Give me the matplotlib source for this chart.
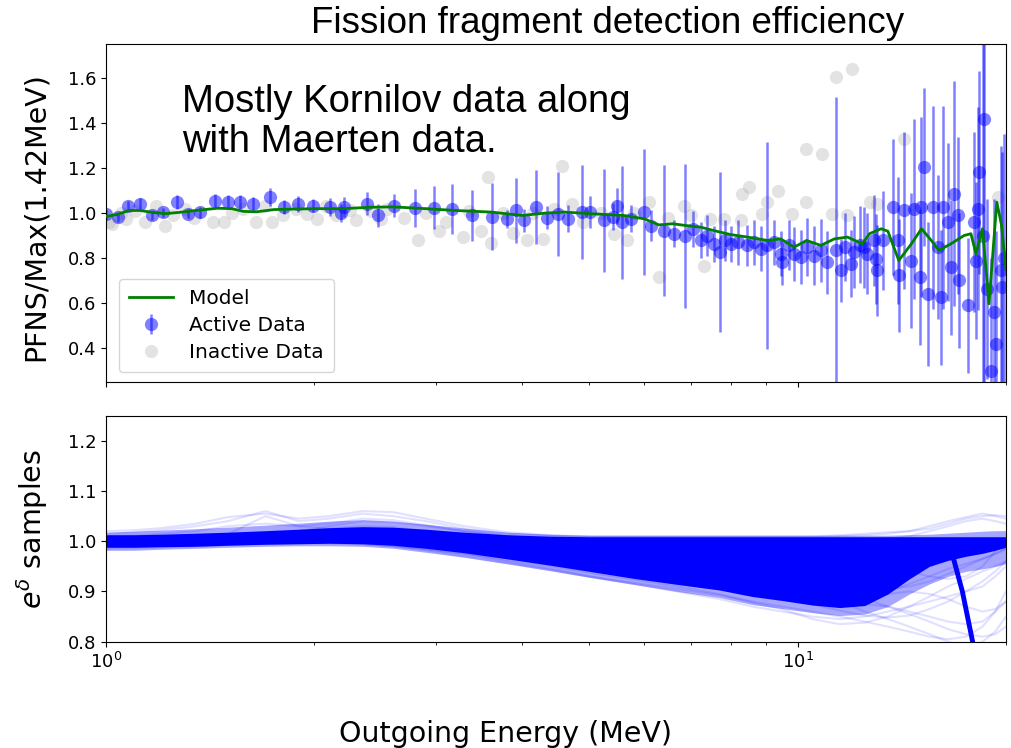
import numpy as np
import matplotlib
matplotlib.use("Agg")
import matplotlib.pyplot as plt

# ---------------- data ----------------
active_E = [1.00, 1.042, 1.077, 1.120, 1.164, 1.210, 1.266, 1.316, 1.368, 1.438, 1.503, 1.563,
            1.634, 1.727, 1.806, 1.898, 1.995, 2.109, 2.19, 2.205, 2.384, 2.477, 2.605,
            2.80, 2.977, 3.165, 3.38, 3.616, 3.80, 3.91, 4.02, 4.18, 4.34, 4.51, 4.65, 4.88,
            5.01, 5.245, 5.40, 5.48, 5.57, 5.75, 5.99, 6.13, 6.41, 6.62, 6.88,
            7.05, 7.24, 7.40, 7.56, 7.72, 7.85, 8.0, 8.2, 8.46, 8.65, 8.84, 9.04, 9.25, 9.45,
            9.5, 9.7, 9.88, 10.1, 10.3, 10.56, 10.8, 11.04, 11.35, 11.54, 11.7, 11.93, 12.07,
            12.3, 12.47, 12.61, 12.9, 12.97, 13.04, 13.3, 13.71, 13.94, 14.02, 14.26, 14.57,
            14.74, 15.0, 15.07, 15.23, 15.41, 15.67, 15.93, 16.1, 16.2, 16.47, 16.65, 16.84,
            17.03, 17.1, 17.6, 18.0, 18.1, 18.2, 18.3, 18.55, 18.6, 18.8, 19.02, 19.23, 19.35,
            19.67, 19.77, 19.9]
active_v = [0.995, 0.982, 1.034, 1.042, 0.990, 1.004, 1.049, 0.997, 1.004, 1.056, 1.049, 1.049,
            1.042, 1.071, 1.027, 1.042, 1.034, 1.027, 1.000, 1.027, 1.042, 0.990, 1.034,
            1.024, 1.024, 1.019, 0.990, 0.985, 0.975, 1.012, 0.968, 1.027, 0.980, 0.997, 0.975, 1.005,
            1.005, 0.968, 0.985, 1.030, 0.960, 0.975, 1.005, 0.945, 0.923, 0.909, 0.900,
            0.930, 0.879, 0.900, 0.864, 0.827, 0.880, 0.864, 0.870, 0.857, 0.870, 0.842, 0.857, 0.870, 0.820,
            0.783, 0.860, 0.820, 0.805, 0.850, 0.812, 0.835, 0.783, 0.835, 0.746, 0.850, 0.776, 0.827,
            0.860, 0.849, 0.820, 0.879, 0.798, 0.746, 0.880, 1.027, 0.879, 0.724, 1.012, 0.790,
            1.020, 0.716, 1.027, 1.204, 0.643, 1.027, 0.849, 0.627, 1.027, 0.960, 0.760, 1.086,
            0.990, 0.702, 0.591, 0.960, 0.790, 1.020, 1.182, 0.900, 1.419, 0.665, 0.302, 0.561, 0.421,
            0.746, 0.672, 0.800]
active_err = [0.02, 0.02, 0.02, 0.025, 0.02, 0.02, 0.03, 0.02, 0.025, 0.03, 0.03, 0.03,
              0.03, 0.04, 0.03, 0.035, 0.03, 0.04, 0.04, 0.045, 0.05, 0.05, 0.05,
              0.085, 0.095, 0.11, 0.115, 0.15, 0.04, 0.145, 0.05, 0.165, 0.05, 0.185, 0.06, 0.21,
              0.07, 0.23, 0.06, 0.08, 0.25, 0.06, 0.28, 0.07, 0.29, 0.06, 0.32,
              0.08, 0.08, 0.09, 0.08, 0.355, 0.09, 0.08, 0.10, 0.09, 0.10, 0.10, 0.46, 0.10, 0.10,
              0.10, 0.11, 0.12, 0.12, 0.13, 0.13, 0.14, 0.14, 0.68, 0.14, 0.15, 0.15, 0.16,
              0.17, 0.18, 0.18, 0.20, 0.20, 0.20, 0.22, 0.30, 0.28, 0.25, 0.35, 0.30,
              0.40, 0.30, 0.40, 0.35, 0.32, 0.45, 0.32, 0.30, 0.45, 0.35, 0.30, 0.50,
              0.35, 0.30, 0.30, 0.40, 0.35, 0.45, 0.45, 1.0, 1.3, 0.40, 0.50, 0.50, 0.50,
              0.55, 0.60, 0.55]

inactive_E = [1.01, 1.02, 1.05, 1.07, 1.10, 1.14, 1.18, 1.217, 1.25, 1.30, 1.34, 1.43, 1.48, 1.52,
              1.58, 1.65, 1.70, 1.74, 1.80, 1.88, 1.95, 2.02, 2.08, 2.15, 2.25, 2.30, 2.42, 2.50, 2.55,
              2.70, 2.83, 2.90, 3.03, 3.10, 3.28, 3.35, 3.48, 3.57, 3.60, 3.75, 3.88, 4.06, 4.15, 4.29,
              4.45, 4.56, 4.72, 4.90, 5.20, 5.42, 5.67, 5.80, 6.09, 6.30, 6.50, 6.84,
              7.00, 7.32, 7.47, 7.82, 8.27, 8.32, 8.50, 8.87, 9.04, 9.35, 9.80, 10.27, 10.27, 10.83,
              11.2, 11.35, 11.8, 12.0, 12.7, 13.0, 14.25, 19.5]
inactive_v = [0.960, 0.953, 1.000, 0.975, 1.010, 0.960, 1.030, 0.945, 0.990, 1.020, 0.980, 0.960, 0.960, 1.000,
              1.020, 0.960, 1.030, 0.960, 0.990, 1.020, 0.997, 0.975, 1.030, 0.990, 1.015, 0.970, 1.010, 0.975, 1.020,
              0.980, 0.879, 1.000, 0.923, 0.960, 0.894, 1.010, 0.923, 1.160, 0.866, 1.000, 0.910, 0.879, 1.000, 0.886,
              1.020, 1.211, 1.042, 0.960, 1.000, 0.909, 0.879, 1.000, 1.049, 0.716, 0.980, 1.034,
              0.990, 0.764, 0.975, 0.975, 0.968, 1.086, 1.115, 0.997, 1.049, 1.100, 0.997, 1.049, 1.285, 1.263,
              0.997, 1.603, 0.990, 1.640, 1.049, 1.040, 1.330, 1.070]

model_E = [1.0, 1.04, 1.08, 1.12, 1.17, 1.22, 1.28, 1.35, 1.45, 1.52, 1.58, 1.65, 1.75, 1.85, 2.0,
           2.2, 2.4, 2.6, 2.9, 3.2, 3.6, 4.0, 4.3, 4.6, 5.0, 5.6, 6.0, 6.3, 6.6, 6.9, 7.24, 7.56,
           8.0, 8.46, 9.04, 9.45, 9.88, 10.3, 10.8, 11.3, 11.8, 12.4, 12.7, 13.2, 13.5, 14.0, 14.6,
           15.1, 15.6, 16.0, 16.65, 17.4, 17.8, 18.1, 18.5, 18.9, 19.4, 19.7, 20.0]
model_v = [0.985, 0.995, 1.012, 1.012, 1.003, 0.998, 1.004, 1.012, 1.022, 1.020, 1.008, 1.006, 1.016,
           1.018, 1.020, 1.020, 1.026, 1.028, 1.020, 1.012, 1.005, 0.990, 1.000, 1.005, 0.998, 0.990,
           0.975, 0.948, 0.953, 0.945, 0.938, 0.923, 0.905, 0.894, 0.879, 0.886, 0.849, 0.879, 0.857,
           0.886, 0.894, 0.864, 0.909, 0.931, 0.920, 0.790, 0.864, 0.931, 0.879, 0.835, 0.864, 0.901,
           0.909, 0.820, 0.931, 0.598, 1.049, 0.950, 0.750]

# bottom panel: e^delta samples
samp_E = [1.0, 1.1, 1.2, 1.35, 1.5, 1.7, 1.9, 2.1, 2.35, 2.6, 2.9, 3.3, 3.8, 4.4, 5.0, 5.8, 6.7,
          7.7, 8.6, 9.5, 10.5, 11.5, 12.5, 13.5, 14.5, 15.5, 16.5, 17.5, 18.5, 19.3, 20.0]
band_upper = [1.013, 1.013, 1.014, 1.016, 1.018, 1.021, 1.024, 1.027, 1.029, 1.028, 1.024, 1.018,
              1.013, 1.010, 1.009, 1.009, 1.009, 1.009, 1.009, 1.009, 1.009, 1.009, 1.009, 1.009,
              1.009, 1.009, 1.009, 1.009, 1.009, 1.009, 1.009]
band_lower = [0.988, 0.988, 0.989, 0.990, 0.992, 0.994, 0.995, 0.996, 0.995, 0.992, 0.986, 0.977,
              0.965, 0.952, 0.940, 0.926, 0.914, 0.903, 0.890, 0.882, 0.873, 0.868, 0.872, 0.895,
              0.925, 0.950, 0.962, 0.970, 0.976, 0.982, 0.988]
band_soft_upper = [1.018, 1.020, 1.022, 1.025, 1.028, 1.032, 1.036, 1.040, 1.043, 1.040, 1.034, 1.026,
                   1.018, 1.014, 1.012, 1.012, 1.012, 1.012, 1.012, 1.012, 1.012, 1.012, 1.012, 1.012,
                   1.013, 1.014, 1.016, 1.018, 1.020, 1.021, 1.021]
band_soft_lower = [0.982, 0.982, 0.984, 0.986, 0.988, 0.990, 0.991, 0.991, 0.990, 0.986, 0.978, 0.968,
                   0.955, 0.941, 0.928, 0.914, 0.900, 0.888, 0.874, 0.866, 0.858, 0.852, 0.855, 0.870,
                   0.895, 0.915, 0.930, 0.940, 0.945, 0.950, 0.955]
faint_samples = [
    [1.020, 1.022, 1.026, 1.035, 1.048, 1.055, 1.045, 1.050, 1.060, 1.058, 1.045, 1.030, 1.018, 1.012,
     1.010, 1.010, 1.010, 1.010, 1.010, 1.010, 1.010, 1.012, 1.015, 1.018, 1.020, 1.025, 1.035, 1.045,
     1.050, 1.052, 1.050],
    [1.015, 1.018, 1.022, 1.030, 1.040, 1.060, 1.040, 1.045, 1.055, 1.050, 1.040, 1.025, 1.015, 1.010,
     1.008, 1.008, 1.008, 1.008, 1.008, 1.008, 1.008, 1.010, 1.012, 1.015, 1.020, 1.030, 1.040, 1.048,
     1.055, 1.050, 1.045],
    [0.990, 0.990, 0.992, 0.993, 0.995, 0.997, 0.998, 0.998, 0.996, 0.992, 0.985, 0.975, 0.960, 0.945,
     0.930, 0.915, 0.900, 0.885, 0.870, 0.860, 0.850, 0.845, 0.850, 0.860, 0.870, 0.880, 0.890, 0.900,
     0.910, 0.930, 0.950],
    [0.990, 0.990, 0.991, 0.993, 0.995, 0.996, 0.997, 0.997, 0.995, 0.990, 0.982, 0.970, 0.957, 0.943,
     0.930, 0.917, 0.905, 0.893, 0.880, 0.870, 0.860, 0.850, 0.840, 0.830, 0.820, 0.810, 0.805, 0.810,
     0.830, 0.860, 0.880],
    [0.985, 0.986, 0.988, 0.990, 0.993, 0.995, 0.996, 0.996, 0.994, 0.990, 0.984, 0.975, 0.963, 0.950,
     0.937, 0.924, 0.910, 0.895, 0.878, 0.865, 0.845, 0.835, 0.838, 0.850, 0.870, 0.890, 0.910, 0.925,
     0.940, 0.950, 0.960],
    [1.005, 1.006, 1.008, 1.010, 1.012, 1.015, 1.018, 1.020, 1.022, 1.020, 1.016, 1.010, 1.005, 1.002,
     1.000, 1.000, 1.000, 1.000, 1.000, 1.000, 1.000, 1.000, 1.002, 1.005, 1.010, 1.020, 1.030, 1.040,
     1.045, 1.040, 1.035],
    [1.000, 1.000, 1.001, 1.002, 1.004, 1.006, 1.008, 1.010, 1.010, 1.008, 1.003, 0.996, 0.987, 0.976,
     0.965, 0.955, 0.945, 0.935, 0.925, 0.915, 0.905, 0.895, 0.885, 0.870, 0.855, 0.840, 0.825, 0.815,
     0.810, 0.815, 0.830],
    [0.995, 0.996, 0.998, 1.000, 1.002, 1.004, 1.006, 1.008, 1.008, 1.006, 1.000, 0.992, 0.980, 0.968,
     0.956, 0.944, 0.932, 0.920, 0.908, 0.900, 0.890, 0.880, 0.875, 0.870, 0.860, 0.850, 0.840, 0.835,
     0.840, 0.860, 0.900],
    [1.000, 1.001, 1.003, 1.006, 1.010, 1.015, 1.020, 1.030, 1.040, 1.038, 1.030, 1.020, 1.010, 1.000,
     0.990, 0.975, 0.960, 0.945, 0.930, 0.915, 0.900, 0.880, 0.860, 0.845, 0.830, 0.815, 0.800, 0.790,
     0.800, 0.820, 0.850],
    [1.010, 1.012, 1.015, 1.020, 1.030, 1.035, 1.030, 1.035, 1.045, 1.042, 1.032, 1.020, 1.010, 1.004,
     1.000, 0.995, 0.990, 0.985, 0.980, 0.975, 0.970, 0.965, 0.960, 0.950, 0.940, 0.930, 0.925, 0.930,
     0.950, 0.980, 1.000],
    [0.995, 0.995, 0.996, 0.998, 1.000, 1.002, 1.004, 1.006, 1.006, 1.004, 0.998, 0.990, 0.978, 0.965,
     0.952, 0.938, 0.925, 0.912, 0.898, 0.888, 0.875, 0.862, 0.852, 0.848, 0.852, 0.865, 0.880, 0.900,
     0.920, 0.940, 0.960],
    [1.000, 1.000, 1.002, 1.004, 1.006, 1.009, 1.012, 1.015, 1.016, 1.014, 1.008, 0.999, 0.988, 0.976,
     0.964, 0.950, 0.936, 0.922, 0.906, 0.895, 0.885, 0.880, 0.885, 0.895, 0.900, 0.895, 0.885, 0.870,
     0.860, 0.865, 0.880],
    [0.992, 0.993, 0.995, 0.998, 1.001, 1.004, 1.007, 1.010, 1.012, 1.010, 1.004, 0.995, 0.984, 0.972,
     0.960, 0.948, 0.936, 0.924, 0.910, 0.900, 0.892, 0.888, 0.890, 0.900, 0.915, 0.930, 0.945, 0.955,
     0.965, 0.975, 0.985],
    [1.004, 1.005, 1.007, 1.010, 1.014, 1.050, 1.030, 1.025, 1.030, 1.028, 1.020, 1.010, 1.000, 0.990,
     0.980, 0.970, 0.960, 0.950, 0.940, 0.930, 0.920, 0.910, 0.905, 0.905, 0.910, 0.920, 0.935, 0.950,
     0.965, 0.975, 0.985],
]
steep_E = [15.5, 16.8, 17.3, 17.9, 18.3]
steep_v = [0.990, 0.965, 0.900, 0.800, 0.730]

# ---------------- figure ----------------
fig = plt.figure(figsize=(10.11, 7.48), dpi=100)
ax1 = fig.add_axes([0.1048, 0.489, 0.8902, 0.452])
ax2 = fig.add_axes([0.1048, 0.1421, 0.8902, 0.3022], sharex=ax1)

blue = '#0000ff'
ax1.errorbar(inactive_E, inactive_v, yerr=None, fmt='o', color='#b0b0b0', ms=9.5,
             alpha=0.35, mec='none', label='Inactive Data', zorder=1)
ax1.errorbar(active_E, active_v, yerr=active_err, fmt='o', color=blue, ms=9.5,
             elinewidth=1.8, alpha=0.5, mec='none', label='Active Data', zorder=2)
ax1.plot(model_E, model_v, color='green', lw=2.0, label='Model', zorder=3)

ax1.set_xscale('log')
ax1.set_xlim(1, 20)
ax1.set_ylim(0.25, 1.75)
ax1.set_yticks([0.4, 0.6, 0.8, 1.0, 1.2, 1.4, 1.6])
ax1.tick_params(labelbottom=False, labelsize=13)
ax1.set_ylabel('PFNS/Max(1.42MeV)', fontsize=20.5)
ax1.yaxis.set_label_coords(-0.062, 0.49)

h, l = ax1.get_legend_handles_labels()
order = [l.index('Model'), l.index('Active Data'), l.index('Inactive Data')]
ax1.legend([h[i] for i in order], [l[i] for i in order], loc='lower left',
           fontsize=14.5, framealpha=0.8, borderpad=0.5, handlelength=2.2,
           labelspacing=0.4, bbox_to_anchor=(0.003, 0.0))

# bottom panel
ax2.fill_between(samp_E, band_soft_lower, band_soft_upper, color=blue, alpha=0.35, lw=0, zorder=2)
ax2.fill_between(samp_E, band_lower, band_upper, color=blue, alpha=1.0, lw=0, zorder=2)
for s in faint_samples:
    ax2.plot(samp_E, s, color=blue, alpha=0.12, lw=1.5, zorder=1)
ax2.plot(steep_E, steep_v, color=blue, lw=3.5, zorder=3)
ax2.set_ylim(0.8, 1.25)
ax2.set_yticks([0.8, 0.9, 1.0, 1.1, 1.2])
ax2.set_xlim(1, 20)
ax2.tick_params(labelsize=13)
ax2.set_ylabel(r'$e^{\delta}$ samples', fontsize=20.5)
ax2.yaxis.set_label_coords(-0.062, 0.5)
ax2.set_xlabel('Outgoing Energy (MeV)', fontsize=20.5)
ax2.xaxis.set_label_coords(0.444, -0.348)

fig.text(0.601, 1 - 33 / 748, 'Fission fragment detection efficiency', family='Liberation Sans',
         fontsize=26.5, ha='center', va='baseline')
fig.text(0.180, 1 - 84 / 748, 'Mostly Kornilov data along\nwith Maerten data.', family='Liberation Sans',
         fontsize=27.5, ha='left', va='top', linespacing=1.15)

fig.savefig('out.png', dpi=100)
